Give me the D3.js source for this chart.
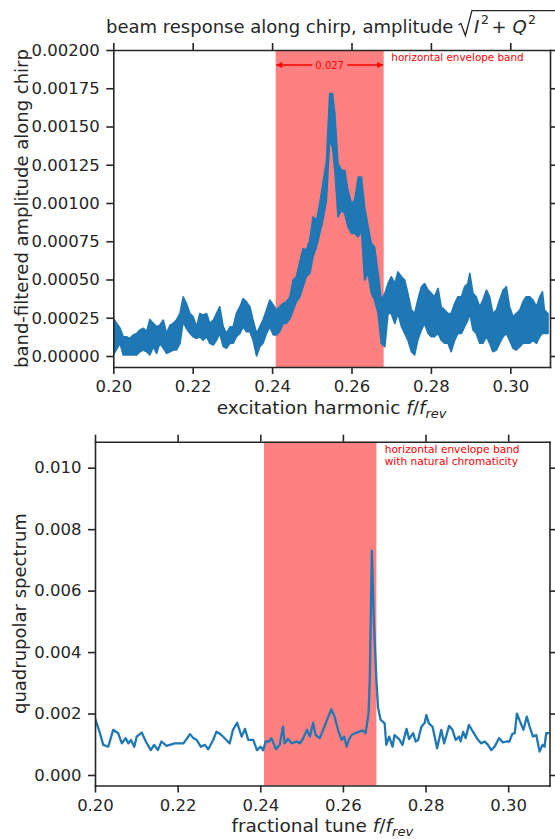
<!DOCTYPE html>
<html>
<head>
<meta charset="utf-8">
<script src="https://cdnjs.cloudflare.com/ajax/libs/d3/7.8.5/d3.min.js"></script>
<style>
  body { margin: 0; background: #fff; }
  svg { display: block; font-family: "DejaVu Sans", sans-serif; }
</style>
</head>
<body>
<svg id="chart" width="555" height="839"></svg>
<script>
// top panel - the trace is very dense, so it is kept as a low / high envelope (units 1e-4)
var harmonic = [
  0.2000, 0.2017, 0.2025, 0.2033, 0.2042, 0.2050, 0.2059, 0.2067, 0.2076, 0.2084,
  0.2092, 0.2101, 0.2109, 0.2117, 0.2126, 0.2134, 0.2143, 0.2151, 0.2159, 0.2168,
  0.2176, 0.2184, 0.2193, 0.2201, 0.2210, 0.2218, 0.2226, 0.2235, 0.2243, 0.2252,
  0.2260, 0.2268, 0.2277, 0.2285, 0.2294, 0.2302, 0.2310, 0.2319, 0.2327, 0.2335,
  0.2344, 0.2352, 0.2361, 0.2369, 0.2377, 0.2386, 0.2394, 0.2403, 0.2411, 0.2419,
  0.2428, 0.2436, 0.2445, 0.2453, 0.2461, 0.2470, 0.2478, 0.2486, 0.2495, 0.2503,
  0.2512, 0.2520, 0.2528, 0.2537, 0.2545, 0.2552, 0.2558, 0.2566, 0.2575, 0.2583,
  0.2591, 0.2600, 0.2608, 0.2617, 0.2625, 0.2633, 0.2642, 0.2650, 0.2658, 0.2667,
  0.2675, 0.2684, 0.2692, 0.2700, 0.2709, 0.2717, 0.2726, 0.2734, 0.2742, 0.2751,
  0.2759, 0.2767, 0.2776, 0.2784, 0.2793, 0.2801, 0.2809, 0.2818, 0.2826, 0.2835,
  0.2843, 0.2851, 0.2860, 0.2868, 0.2877, 0.2885, 0.2893, 0.2898, 0.2906, 0.2914,
  0.2923, 0.2931, 0.2940, 0.2948, 0.2956, 0.2965, 0.2973, 0.2982, 0.2990, 0.2998,
  0.3007, 0.3015, 0.3024, 0.3032, 0.3040, 0.3049, 0.3057, 0.3066, 0.3074, 0.3081,
  0.3086, 0.3095
];
var ampHigh = [
  2.46, 1.81, 1.26, 1.26, 1.15, 1.37, 1.48, 1.70, 1.81, 1.59,
  2.39, 2.13, 1.91, 2.02, 2.35, 1.48, 2.02, 2.13, 2.35, 2.78,
  3.87, 3.44, 2.78, 2.57, 1.91, 2.78, 2.68, 2.78, 2.13, 2.35,
  2.78, 3.22, 1.91, 1.48, 1.91, 1.91, 2.78, 3.22, 3.76, 3.55,
  3.22, 2.35, 1.48, 1.91, 2.35, 3.00, 3.66, 3.33, 3.00, 3.22,
  3.44, 3.55, 3.87, 4.96, 5.18, 6.16, 7.03, 6.92, 7.57, 9.09,
  8.88, 9.97, 11.27, 12.79, 17.15, 17.15, 15.84, 12.58, 12.14, 12.14,
  10.83, 9.97, 10.18, 11.70, 11.70, 9.75, 8.44, 7.35, 7.14, 5.40,
  3.66, 4.09, 4.74, 5.18, 4.74, 5.50, 5.18, 4.96, 4.09, 3.00,
  2.78, 3.66, 4.53, 4.74, 4.31, 4.09, 3.87, 4.42, 3.22, 3.00,
  2.78, 2.78, 3.44, 3.87, 3.87, 4.53, 4.74, 5.40, 4.09, 3.87,
  3.22, 3.66, 4.31, 3.87, 2.78, 3.00, 3.66, 4.31, 4.53, 3.22,
  2.57, 2.78, 3.00, 3.55, 3.87, 3.87, 3.66, 3.22, 3.87, 4.20,
  3.00, 2.78
];
var ampLow = [
  0.07, 0.83, 0.07, 0.07, 0.07, 0.07, 0.07, 0.28, 0.39, 0.28,
  0.07, 0.61, 0.17, 0.83, 0.50, 0.17, 0.28, 0.39, 0.39, 0.83,
  2.24, 1.81, 1.48, 1.26, 1.15, 1.26, 1.04, 1.26, 0.83, 0.72,
  1.04, 1.48, 0.61, 0.50, 0.83, 0.83, 1.26, 1.48, 1.91, 1.59,
  1.59, 1.04, 0.00, 0.61, 0.83, 1.48, 1.91, 1.37, 1.37, 1.59,
  2.13, 2.13, 2.46, 3.00, 3.55, 3.87, 4.53, 5.18, 5.40, 6.48,
  7.14, 8.01, 8.88, 10.18, 14.10, 13.66, 12.14, 9.09, 9.53, 9.31,
  8.44, 8.01, 8.01, 7.79, 8.22, 4.96, 5.40, 4.09, 3.66, 2.78,
  0.83, 0.61, 2.78, 2.78, 2.13, 2.78, 1.91, 1.48, 1.04, 0.28,
  0.07, 1.04, 1.70, 2.13, 1.48, 1.26, 1.26, 1.48, 1.04, 0.83,
  0.83, 0.28, 1.04, 1.48, 1.48, 1.91, 2.35, 2.78, 1.70, 1.48,
  0.83, 0.83, 1.26, 0.83, 0.28, 0.39, 0.83, 1.26, 1.48, 1.04,
  0.50, 0.39, 0.61, 0.83, 0.83, 0.83, 1.04, 0.83, 1.26, 1.48,
  1.48, 1.48
];
var AMP_UNIT = 1e-4;

// bottom panel - quadrupolar spectrum (units 1e-3)
var tune = [
  0.2000, 0.2012, 0.2020, 0.2032, 0.2044, 0.2056, 0.2065, 0.2074, 0.2081, 0.2087,
  0.2095, 0.2101, 0.2113, 0.2123, 0.2135, 0.2143, 0.2152, 0.2161, 0.2173, 0.2193,
  0.2214, 0.2230, 0.2238, 0.2246, 0.2256, 0.2266, 0.2274, 0.2286, 0.2294, 0.2306,
  0.2318, 0.2326, 0.2334, 0.2344, 0.2355, 0.2363, 0.2371, 0.2383, 0.2392, 0.2401,
  0.2407, 0.2413, 0.2421, 0.2427, 0.2438, 0.2447, 0.2455, 0.2459, 0.2467, 0.2476,
  0.2488, 0.2496, 0.2504, 0.2513, 0.2520, 0.2528, 0.2534, 0.2544, 0.2552, 0.2562,
  0.2572, 0.2580, 0.2588, 0.2597, 0.2603, 0.2609, 0.2614, 0.2621, 0.2633, 0.2649,
  0.2655, 0.2662, 0.2665, 0.2670, 0.2675, 0.2681, 0.2685, 0.2691, 0.2701, 0.2705,
  0.2712, 0.2720, 0.2725, 0.2736, 0.2744, 0.2754, 0.2760, 0.2770, 0.2776, 0.2782,
  0.2790, 0.2798, 0.2802, 0.2808, 0.2817, 0.2822, 0.2828, 0.2838, 0.2845, 0.2857,
  0.2865, 0.2873, 0.2881, 0.2885, 0.2891, 0.2897, 0.2905, 0.2915, 0.2927, 0.2935,
  0.2943, 0.2951, 0.2959, 0.2967, 0.2978, 0.2987, 0.2996, 0.3003, 0.3010, 0.3016,
  0.3021, 0.3029, 0.3037, 0.3045, 0.3052, 0.3060, 0.3068, 0.3076, 0.3083, 0.3088,
  0.3092, 0.3100
];
var quad = [
  1.85, 1.36, 0.98, 0.92, 1.47, 1.36, 1.03, 1.20, 1.03, 1.14,
  0.92, 1.25, 1.38, 1.09, 0.81, 0.98, 0.81, 1.09, 0.95, 1.03,
  1.03, 1.33, 1.20, 1.14, 0.92, 0.98, 0.84, 1.14, 1.41, 1.30,
  1.14, 1.03, 1.47, 1.70, 1.25, 1.50, 1.14, 1.14, 0.81, 0.92,
  0.80, 1.09, 1.09, 1.20, 0.84, 0.98, 1.57, 1.03, 1.17, 1.03,
  1.09, 1.03, 1.20, 1.47, 1.25, 1.70, 1.30, 1.20, 1.47, 1.81,
  2.14, 1.90, 1.47, 1.14, 1.25, 0.92, 1.14, 1.30, 1.38, 1.45,
  1.36, 2.00, 3.10, 7.30, 5.00, 3.10, 2.20, 1.80, 1.68, 0.98,
  1.25, 0.92, 1.30, 1.17, 0.98, 1.50, 1.17, 1.36, 1.09, 1.14,
  1.57, 1.70, 1.95, 1.68, 1.57, 1.25, 0.87, 1.47, 1.03, 1.60,
  1.47, 1.14, 1.25, 1.09, 1.40, 1.20, 1.63, 1.40, 1.14, 1.03,
  1.09, 0.98, 0.81, 0.92, 1.20, 1.06, 1.09, 1.09, 1.34, 1.36,
  2.00, 1.73, 1.47, 1.90, 1.57, 1.25, 1.30, 0.76, 0.98, 0.92,
  1.36, 1.36
];
var QUAD_UNIT = 1e-3;

var bandLo = 0.2409, bandHi = 0.2681;
var bandWidthLabel = "0.027";
var xTicks = [0.20, 0.22, 0.24, 0.26, 0.28, 0.30];
var ampTicks = [0, 0.00025, 0.0005, 0.00075, 0.001, 0.00125, 0.0015, 0.00175, 0.002];
var quadTicks = [0, 0.002, 0.004, 0.006, 0.008, 0.010];

var ink = "#262626";
var blue = "#1f77b4";
var svg = d3.select("#chart");

function drawPanel(o) {
  var x = d3.scaleLinear().domain(o.xDomain).range([o.left, o.right]);
  var y = d3.scaleLinear().domain(o.yDomain).range([o.bottom, o.top]);
  var g = svg.append("g");

  g.append("clipPath").attr("id", o.id + "-clip")
    .append("rect")
    .attr("x", o.left).attr("y", o.top)
    .attr("width", o.right - o.left).attr("height", o.bottom - o.top);

  // envelope band
  g.append("rect")
    .attr("x", x(bandLo)).attr("y", o.top)
    .attr("width", x(bandHi) - x(bandLo)).attr("height", o.bottom - o.top)
    .attr("fill", "#ff8080");

  var plot = g.append("g").attr("clip-path", "url(#" + o.id + "-clip)");
  o.draw(plot, x, y);

  var axes = [
    [d3.axisBottom(x).tickValues(xTicks).tickFormat(d3.format(".2f")), "translate(0," + o.bottom + ")"],
    [d3.axisTop(x).tickValues(xTicks).tickFormat(""), "translate(0," + o.top + ")"],
    [d3.axisLeft(y).tickValues(o.yTicks).tickFormat(d3.format(o.yFormat)), "translate(" + o.left + ",0)"],
    [d3.axisRight(y).tickValues(o.yTicks).tickFormat(""), "translate(" + o.right + ",0)"]
  ];
  axes.forEach(function(a) {
    var ag = g.append("g").attr("transform", a[1])
      .call(a[0].tickSize(7).tickSizeOuter(0).tickPadding(6.5));
    ag.attr("font-size", 16.5).attr("font-family", "DejaVu Sans");
    ag.selectAll("path.domain").attr("stroke", ink).attr("stroke-width", 1.6).attr("stroke-linecap", "square");
    ag.selectAll(".tick line").attr("stroke", ink).attr("stroke-width", 1.6);
    ag.selectAll(".tick text").attr("fill", ink);
  });

  // y label
  g.append("text")
    .attr("transform", "translate(" + o.yLabelX + "," + ((o.top + o.bottom) / 2) + ") rotate(-90)")
    .attr("text-anchor", "middle")
    .attr("font-size", 18).attr("fill", ink)
    .text(o.yLabel);

  // x label with f/f_rev
  var xl = g.append("text")
    .attr("x", (o.left + o.right) / 2).attr("y", o.bottom + 46.5)
    .attr("text-anchor", "middle")
    .attr("font-size", 18.5).attr("fill", ink);
  xl.append("tspan").text(o.xLabel + " ");
  xl.append("tspan").attr("font-style", "italic").text("f");
  xl.append("tspan").text("/");
  xl.append("tspan").attr("font-style", "italic").text("f");
  xl.append("tspan").attr("font-style", "italic").attr("font-size", 13).attr("dy", 4).text("rev");

  return { x: x, y: y, g: g };
}

function init() {

  // title with sqrt(I^2 + Q^2), math pieces placed by hand after the plain text
  var fs = 18;
  var title = svg.append("text")
    .attr("x", 106).attr("y", 33)
    .attr("font-size", fs).attr("fill", ink)
    .text("beam response along chirp, amplitude");
  var tw = title.node().getComputedTextLength();
  var rx = 106 + tw + 5;
  svg.append("path")
    .attr("d", "M" + rx + ",25 L" + (rx + 2.5) + ",23.5 L" + (rx + 7) + ",35.5 L" + (rx + 13.5) + ",10.6 H 560")
    .attr("fill", "none").attr("stroke", ink).attr("stroke-width", 1.3);
  var mathParts = [
    { t: "I", dx: 15.5, italic: true, sup: false },
    { t: "2", dx: 22.5, italic: false, sup: true },
    { t: "+", dx: 33, italic: false, sup: false },
    { t: "Q", dx: 54, italic: true, sup: false },
    { t: "2", dx: 69.5, italic: false, sup: true }
  ];
  mathParts.forEach(function(p) {
    svg.append("text")
      .attr("x", rx + p.dx).attr("y", p.sup ? 24 : 33)
      .attr("font-size", p.sup ? 12.6 : 18)
      .attr("font-style", p.italic ? "italic" : null)
      .attr("fill", ink)
      .text(p.t);
  });

  var top = drawPanel({
    id: "top",
    left: 113.3, right: 550, top: 50, bottom: 367,
    xDomain: [0.2, 0.31], yDomain: [-0.0000719, 0.002],
    yTicks: ampTicks, yFormat: ".5f",
    yLabel: "band-filtered amplitude along chirp", yLabelX: 28,
    xLabel: "excitation harmonic",
    draw: function(plot, x, y) {
      var pts = harmonic.map(function(h, i) { return [h, ampLow[i] * AMP_UNIT, ampHigh[i] * AMP_UNIT]; });
      plot.append("path")
        .datum(pts)
        .attr("fill", blue)
        .attr("stroke", blue)
        .attr("stroke-width", 1.6)
        .attr("stroke-linejoin", "round")
        .attr("d", d3.area()
          .x(function(d) { return x(d[0]); })
          .y0(function(d) { return y(d[1]); })
          .y1(function(d) { return y(d[2]); }));
    }
  });

  // width annotation inside the band
  var defs = svg.append("defs");
  defs.append("marker").attr("id", "arrowhead")
    .attr("viewBox", "0 0 10 10").attr("refX", 10).attr("refY", 5)
    .attr("markerWidth", 9).attr("markerHeight", 6).attr("markerUnits", "userSpaceOnUse")
    .attr("orient", "auto")
    .append("path").attr("d", "M0,0 L10,5 L0,10 z").attr("fill", "red");

  var mid = top.x((bandLo + bandHi) / 2);
  var ay = 65;
  top.g.append("line")
    .attr("x1", mid - 17.5).attr("x2", top.x(bandLo) + 0.5).attr("y1", ay).attr("y2", ay)
    .attr("stroke", "red").attr("stroke-width", 1.4).attr("marker-end", "url(#arrowhead)");
  top.g.append("line")
    .attr("x1", mid + 17.5).attr("x2", top.x(bandHi) - 0.5).attr("y1", ay).attr("y2", ay)
    .attr("stroke", "red").attr("stroke-width", 1.4).attr("marker-end", "url(#arrowhead)");
  top.g.append("text")
    .attr("x", mid).attr("y", ay + 3.6)
    .attr("text-anchor", "middle").attr("font-size", 10).attr("fill", "red")
    .text(bandWidthLabel);
  top.g.append("text")
    .attr("x", top.x(bandHi) + 7.7).attr("y", 60.5)
    .attr("font-size", 10.4).attr("fill", "red")
    .text("horizontal envelope band");

  var bottom = drawPanel({
    id: "bottom",
    left: 95, right: 549.5, top: 441.7, bottom: 785.5,
    xDomain: [0.2, 0.31], yDomain: [-0.000342, 0.010846],
    yTicks: quadTicks, yFormat: ".3f",
    yLabel: "quadrupolar spectrum", yLabelX: 26,
    xLabel: "fractional tune",
    draw: function(plot, x, y) {
      var pts = tune.map(function(t, i) { return [t, quad[i] * QUAD_UNIT]; });
      plot.append("path")
        .datum(pts)
        .attr("fill", "none")
        .attr("stroke", blue)
        .attr("stroke-width", 2.3)
        .attr("stroke-linejoin", "round")
        .attr("d", d3.line()
          .x(function(d) { return x(d[0]); })
          .y(function(d) { return y(d[1]); }));
    }
  });

  var note = bottom.g.append("text")
    .attr("font-size", 10.6).attr("fill", "red");
  note.append("tspan").attr("x", bottom.x(bandHi) + 8.3).attr("y", 452.7).text("horizontal envelope band");
  note.append("tspan").attr("x", bottom.x(bandHi) + 8.3).attr("y", 465.3).text("with natural chromaticity");
}

init();
</script>
</body>
</html>
